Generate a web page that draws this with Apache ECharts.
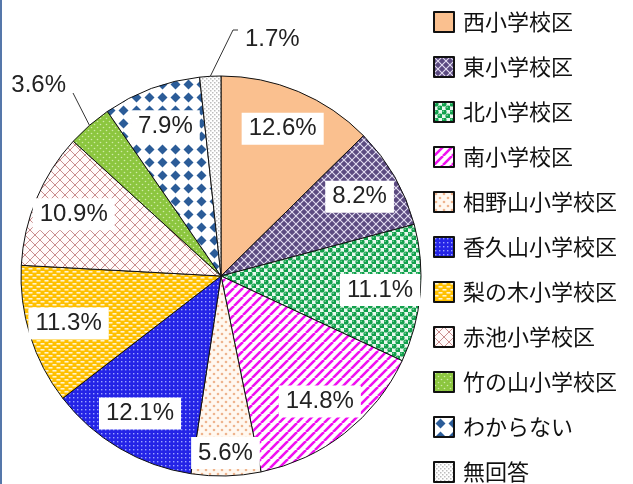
<!DOCTYPE html>
<html><head><meta charset="utf-8">
<script src="https://cdn.jsdelivr.net/npm/echarts@6/dist/echarts.min.js"></script>
<style>html,body{margin:0;padding:0;background:#fff}#c{width:633px;height:484px}</style>
</head><body><div id="c"></div>
<script>
const categories = ['西小学校区','東小学校区','北小学校区','南小学校区','相野山小学校区','香久山小学校区','梨の木小学校区','赤池小学校区','竹の山小学校区','わからない','無回答'];
const values = [12.6, 8.2, 11.1, 14.8, 5.6, 12.1, 11.3, 10.9, 3.6, 7.9, 1.7];
const outsideLabels = ['竹の山小学校区','無回答'];

function tile(w, h, draw) {
  const c = document.createElement('canvas'); c.width = w; c.height = h;
  const g = c.getContext('2d'); draw(g, w, h); return c;
}
function pat(c) { return { image: c, repeat: 'repeat' }; }
function dot(g, x, y, r, col) { g.fillStyle = col; g.beginPath(); g.arc(x, y, r, 0, Math.PI * 2); g.fill(); }

const fills = [
  '#FAC08F',
  pat(tile(8, 8, (g) => { g.fillStyle = '#5B4A80'; g.fillRect(0,0,8,8); g.strokeStyle = '#E4DEF2'; g.lineWidth = 1.1;
    g.beginPath(); g.moveTo(0,0); g.lineTo(8,8); g.moveTo(8,0); g.lineTo(0,8); g.stroke(); })),
  pat(tile(8, 8, (g) => { g.fillStyle = '#EAF8EF'; g.fillRect(0,0,8,8);
    [[2,2],[6,6]].forEach(p => { dot(g,p[0],p[1],2.6,'#12A04C'); dot(g,p[0]-0.8,p[1]-0.8,0.8,'#7CD8A0'); }); })),
  pat(tile(9, 9, (g) => { g.fillStyle = '#FFFFFF'; g.fillRect(0,0,9,9); g.strokeStyle = '#F010F0'; g.lineWidth = 2.6;
    g.beginPath(); for (let k = -1; k <= 1; k++) { g.moveTo(k*9, 9); g.lineTo(k*9+9, 0); } g.stroke(); })),
  pat(tile(8, 8, (g) => { g.fillStyle = '#FFF8F0'; g.fillRect(0,0,8,8); dot(g,2,2,1.3,'#EEB48E'); dot(g,6,6,1.3,'#EEB48E'); })),
  pat(tile(4, 4, (g) => { g.fillStyle = '#2424E6'; g.fillRect(0,0,4,4); g.fillStyle = '#9CA4FF'; g.fillRect(1,1,1.4,1.4); })),
  pat(tile(8, 6, (g) => { g.fillStyle = '#FFC000'; g.fillRect(0,0,8,6); g.fillStyle = '#FFF4D0'; g.fillRect(0.5,1,4,1.6); g.fillRect(4.5,4,4,1.6); g.fillRect(-3.5,4,4,1.6); })),
  pat(tile(10, 10, (g) => { g.fillStyle = '#FFFAFA'; g.fillRect(0,0,10,10); g.strokeStyle = '#C98E8E'; g.lineWidth = 1;
    g.beginPath(); g.moveTo(0,0); g.lineTo(10,10); g.moveTo(10,0); g.lineTo(0,10); g.stroke(); })),
  pat(tile(6, 6, (g) => { g.fillStyle = '#8CC63F'; g.fillRect(0,0,6,6); dot(g,1.5,1.5,0.8,'#CFEBA8'); dot(g,4.5,4.5,0.8,'#CFEBA8'); })),
  pat(tile(13, 13, (g) => { g.fillStyle = '#FFFFFF'; g.fillRect(0,0,13,13); g.fillStyle = '#2B5C98';
    g.beginPath(); g.moveTo(6.5,1.5); g.lineTo(11.5,6.5); g.lineTo(6.5,11.5); g.lineTo(1.5,6.5); g.closePath(); g.fill(); })),
  pat(tile(4, 4, (g) => { g.fillStyle = '#FFFFFF'; g.fillRect(0,0,4,4); g.fillStyle = '#BDBDBD'; g.fillRect(0,0,1.5,1.5); g.fillRect(2,2,1.5,1.5); }))
];

const CX = 221, CY = 276, R = 200, LABEL_R = 155;
const labelRadiusOverride = { '相野山小学校区': 172 };

const chart = echarts.init(document.getElementById('c'), null, { renderer: 'canvas' });
const data = categories.map((name, i) => {
  const out = outsideLabels.indexOf(name) >= 0;
  return {
    name: name, value: values[i],
    itemStyle: { color: fills[i] },
    label: out ? { position: 'outside', backgroundColor: 'transparent', padding: 0, overflow: 'none', width: 80 } : { position: 'inside' },
    labelLine: { show: out }
  };
});

chart.setOption({
  animation: false,
  graphic: [{ type: 'rect', shape: { x: 0, y: 0, width: 2, height: 484 }, style: { fill: '#5577AA' } }],
  legend: {
    orient: 'vertical', left: 433, top: 11, height: 520, padding: 0,
    itemWidth: 20, itemHeight: 20, itemGap: 23,
    icon: 'rect',
    textStyle: { fontFamily: 'Noto Sans CJK JP', fontSize: 22, color: '#111', lineHeight: 20, padding: [0, 0, 0, 4] },
    data: categories
  },
  series: [{
    type: 'pie',
    center: [CX, CY], radius: [0, R],
    startAngle: 90, clockwise: true,
    itemStyle: { borderColor: '#111', borderWidth: 1 },
    label: {
      show: true, formatter: (p) => p.value.toFixed(1) + '%',
      fontFamily: 'Liberation Sans, Arial', fontSize: 24, color: '#222',
      backgroundColor: '#FFFFFF', padding: [4, 7]
    },
    labelLine: { lineStyle: { color: '#333', width: 1 }, length: 30, length2: 4 },
    labelLayout: function (p) {
      const name = categories[p.dataIndex];
      const lr = p.labelRect;
      if (name === '無回答') {
        const e = p.labelLinePoints ? p.labelLinePoints[0] : [CX, CY - R];
        return { x: CX + 24, y: CY - 237, align: 'left', verticalAlign: 'middle',
          labelLinePoints: [e, [CX + 12, CY - 246], [CX + 17, CY - 246]] };
      }
      if (name === '竹の山小学校区') {
        const e = p.labelLinePoints ? p.labelLinePoints[0] : [CX, CY];
        return { x: CX - 155, y: CY - 191, align: 'right', verticalAlign: 'middle',
          labelLinePoints: [e, [CX - 148, CY - 183]] };
      }
      const lx = lr.x + lr.width / 2, ly = lr.y + lr.height / 2;
      const k = (labelRadiusOverride[name] || LABEL_R) / (R / 2) - 1;
      return { dx: (lx - CX) * k, dy: (ly - CY) * k };
    },
    data: data
  }]
});
</script></body></html>
